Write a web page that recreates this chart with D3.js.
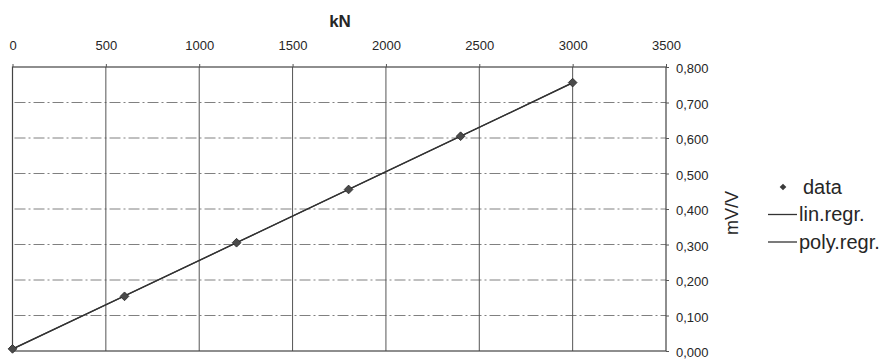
<!DOCTYPE html>
<html>
<head>
<meta charset="utf-8">
<script src="https://cdn.jsdelivr.net/npm/d3@7"></script>
<style>
  html, body { margin: 0; padding: 0; background: #fff; }
  svg { display: block; font-family: "Liberation Sans", Arial, sans-serif; }
</style>
</head>
<body>
<svg id="chart" width="889" height="359"></svg>
<script>
// Calibration: force (kN) against bridge output (mV/V)
const forces   = [0, 600, 1200, 1800, 2400, 3000];
const measured = [0.006, 0.154, 0.305, 0.455, 0.605, 0.756];
const linRegr  = [0.005, 0.155, 0.305, 0.455, 0.605, 0.755];
const polyRegr = [0.006, 0.155, 0.305, 0.455, 0.605, 0.756];
const xTicks   = [0, 500, 1000, 1500, 2000, 2500, 3000, 3500];
const yTicks   = [0, 0.1, 0.2, 0.3, 0.4, 0.5, 0.6, 0.7, 0.8];
const legendItems = ["data", "lin.regr.", "poly.regr."];

const svg = d3.select("#chart");
const ink = "#262626";

const x = d3.scaleLinear().domain([0, 3500]).range([12.5, 666]);
const y = d3.scaleLinear().domain([0, 0.8]).range([351, 67]);

const comma = d3.formatLocale({ decimal: ",", thousands: ".", grouping: [3], currency: ["", ""] });
const fmtY = comma.format(".3f");

// horizontal dash-dot gridlines
svg.append("g")
  .selectAll("line")
  .data(yTicks.filter(d => d > 0 && d < 0.8))
  .join("line")
  .attr("x1", x(0) + 2).attr("x2", x(3500))
  .attr("y1", d => y(d)).attr("y2", d => y(d))
  .attr("stroke", "#808080").attr("stroke-width", 1)
  .attr("stroke-dasharray", "11,3,2,3");

// vertical gridlines
svg.append("g")
  .selectAll("line")
  .data(xTicks.filter(d => d > 0 && d < 3500))
  .join("line")
  .attr("x1", d => x(d)).attr("x2", d => x(d))
  .attr("y1", y(0.8)).attr("y2", y(0))
  .attr("stroke", "#555").attr("stroke-width", 1);

// plot frame
svg.append("rect")
  .attr("x", x(0)).attr("y", y(0.8))
  .attr("width", x(3500) - x(0)).attr("height", y(0) - y(0.8))
  .attr("fill", "none").attr("stroke", "#444").attr("stroke-width", 1.2);

// top axis (kN)
const xAxis = svg.append("g")
  .attr("transform", `translate(0,${y(0.8)})`)
  .call(d3.axisTop(x).tickValues(xTicks).tickFormat(d3.format("d")).tickSize(3).tickPadding(14));
xAxis.select(".domain").remove();
xAxis.selectAll("line").attr("stroke", "#555");
xAxis.selectAll("text")
  .attr("font-size", 13).attr("fill", ink)
  .attr("font-family", "Liberation Sans, Arial, sans-serif");

// right axis (mV/V)
const yAxis = svg.append("g")
  .attr("transform", `translate(${x(3500)},0)`)
  .call(d3.axisRight(y).tickValues(yTicks).tickFormat(fmtY).tickSize(3).tickPadding(7));
yAxis.select(".domain").remove();
yAxis.selectAll("line").attr("stroke", "#555");
yAxis.selectAll("text")
  .attr("font-size", 13).attr("fill", ink).attr("dy", "0.45em")
  .attr("font-family", "Liberation Sans, Arial, sans-serif");

// axis titles
svg.append("text")
  .attr("x", 340).attr("y", 27)
  .attr("text-anchor", "middle")
  .attr("font-size", 17).attr("font-weight", "bold").attr("fill", ink)
  .text("kN");

svg.append("text")
  .attr("transform", "translate(732,213) rotate(-90)")
  .attr("text-anchor", "middle").attr("dy", "0.35em")
  .attr("font-size", 18).attr("fill", ink)
  .text("mV/V");

// regression lines and data
const line = vals => d3.line().x((d, i) => x(forces[i])).y(d => y(d))(vals);

svg.append("path").attr("d", line(linRegr))
  .attr("fill", "none").attr("stroke", "#333").attr("stroke-width", 1.4);
svg.append("path").attr("d", line(polyRegr))
  .attr("fill", "none").attr("stroke", "#333").attr("stroke-width", 1.2);

// square markers turned 45 degrees
const marker = d3.symbol().type(d3.symbolSquare).size(38);
svg.append("g")
  .selectAll("path")
  .data(measured)
  .join("path")
  .attr("transform", (d, i) => `translate(${x(forces[i])},${y(d)}) rotate(45)`)
  .attr("d", marker)
  .attr("fill", "#4a4a4a").attr("stroke", "#2a2a2a").attr("stroke-width", 0.8);

// legend
const legend = svg.append("g");
const rowY = [187, 214.5, 242];
legend.append("path")
  .attr("transform", `translate(783,${rowY[0]}) rotate(45)`)
  .attr("d", d3.symbol().type(d3.symbolSquare).size(22))
  .attr("fill", "#3a3a3a");
[1, 2].forEach(i => {
  legend.append("line")
    .attr("x1", 768).attr("x2", 797)
    .attr("y1", rowY[i]).attr("y2", rowY[i])
    .attr("stroke", "#333").attr("stroke-width", 1.3);
});
legend.selectAll("text")
  .data(legendItems)
  .join("text")
  .attr("x", (d, i) => i === 0 ? 803 : 799)
  .attr("y", (d, i) => rowY[i] + 6.5)
  .attr("font-size", 20).attr("fill", ink)
  .text(d => d);
</script>
</body>
</html>
